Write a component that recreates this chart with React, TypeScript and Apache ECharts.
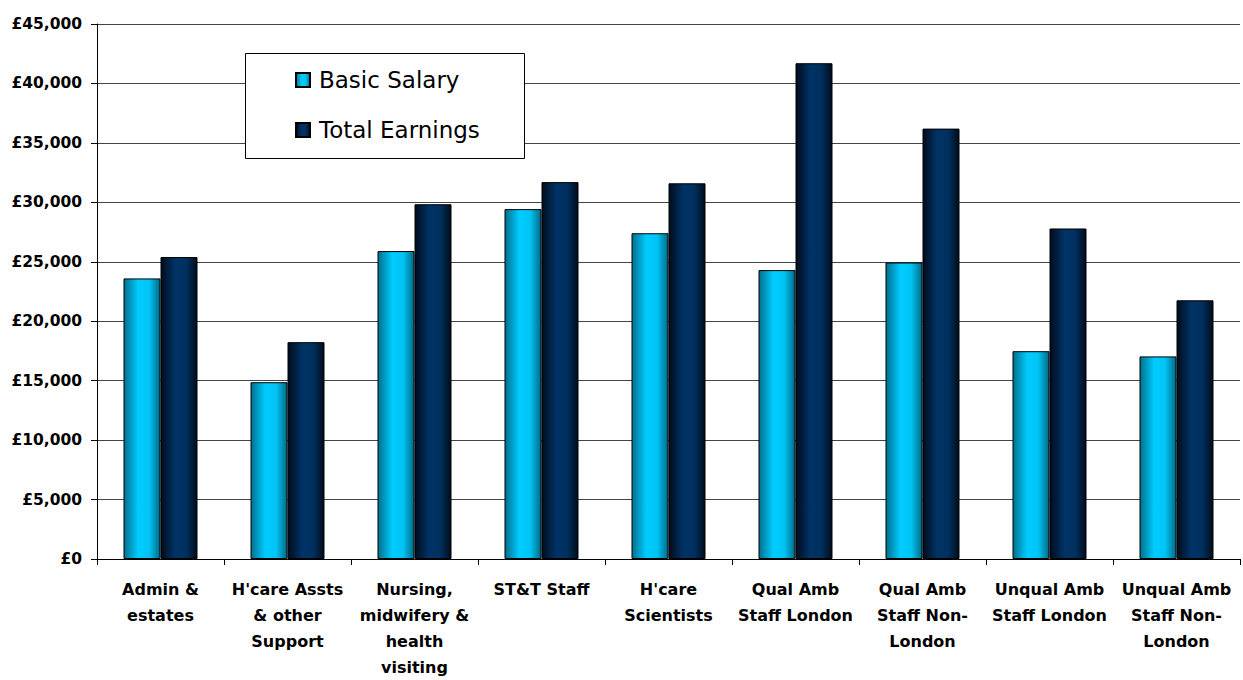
import React, { useEffect, useRef } from "react";
import * as echarts from "echarts";

const categories = [
  "Admin &\nestates",
  "H'care Assts\n& other\nSupport",
  "Nursing,\nmidwifery &\nhealth\nvisiting",
  "ST&T Staff",
  "H'care\nScientists",
  "Qual Amb\nStaff London",
  "Qual Amb\nStaff Non-\nLondon",
  "Unqual Amb\nStaff London",
  "Unqual Amb\nStaff Non-\nLondon",
];
const basicSalary = [23600, 14870, 25900, 29430, 27400, 24300, 24940, 17480, 17040];
const totalEarnings = [25400, 18240, 29840, 31700, 31600, 41700, 36200, 27800, 21760];
const seriesNames = ["Basic Salary", "Total Earnings"];

const FONT = "DejaVu Sans";

function fmt(v: number): string {
  return "£" + String(v).replace(/\B(?=(\d{3})+(?!\d))/g, ",");
}

export default function App() {
  const ref = useRef<HTMLDivElement>(null);
  useEffect(() => {
    if (!ref.current) return;
    const chart = echarts.init(ref.current, undefined, { renderer: "svg" });
    const h = chart.getHeight();
    const cyan = new echarts.graphic.LinearGradient(0, 0, 1, 0, [
      { offset: 0, color: "#006f8c" },
      { offset: 0.4, color: "#00ccff" },
      { offset: 0.7, color: "#00c4f4" },
      { offset: 1, color: "#006a88" },
    ]);
    const navy = new echarts.graphic.LinearGradient(0, 0, 1, 0, [
      { offset: 0, color: "#000c1c" },
      { offset: 0.4, color: "#003366" },
      { offset: 0.7, color: "#00305f" },
      { offset: 1, color: "#000c1c" },
    ]);
    chart.setOption({
      animation: false,
      backgroundColor: "#fff",
      grid: { left: 97, right: 3, top: 24, bottom: h - 565, containLabel: false },
      legend: {
        orient: "vertical",
        left: 295,
        top: 66,
        padding: 0,
        itemWidth: 14,
        itemHeight: 14,
        itemGap: 22,
        icon: "rect",
        textStyle: { fontFamily: FONT, fontSize: 23, color: "#000", lineHeight: 28, padding: [0, 0, 0, 4] },
        data: seriesNames,
      },
      graphic: [
        {
          type: "rect",
          z: 3,
          shape: { x: 245.5, y: 53.5, width: 279, height: 105 },
          style: { fill: "#fff", stroke: "#000", lineWidth: 1 },
        },
      ],
      xAxis: {
        type: "category",
        data: categories,
        axisLine: { lineStyle: { color: "#000", width: 1 } },
        axisTick: { show: true, length: 6, lineStyle: { color: "#000" } },
        axisLabel: {
          interval: 0,
          fontFamily: FONT,
          fontWeight: "bold",
          fontSize: 16,
          lineHeight: 26,
          color: "#000",
          margin: 17,
          align: "center",
        },
      },
      yAxis: {
        type: "value",
        min: 0,
        max: 45000,
        interval: 5000,
        axisLine: { show: true, lineStyle: { color: "#000", width: 1 } },
        axisTick: { show: true, length: 6, lineStyle: { color: "#000" } },
        splitLine: { show: true, lineStyle: { color: "#444", width: 1 } },
        axisLabel: {
          fontFamily: FONT,
          fontWeight: "bold",
          fontSize: 15.5,
          color: "#000",
          margin: 15,
          formatter: (v: number) => fmt(v),
        },
      },
      series: [
        {
          name: seriesNames[0],
          type: "bar",
          data: basicSalary,
          barWidth: 37,
          barGap: "0%",
          itemStyle: { color: cyan, borderColor: "#000", borderWidth: 1 },
        },
        {
          name: seriesNames[1],
          type: "bar",
          data: totalEarnings,
          barWidth: 37,
          barGap: "0%",
          itemStyle: { color: navy, borderColor: "#000", borderWidth: 1 },
        },
      ],
    });
    return () => chart.dispose();
  }, []);
  return (
    <div
      ref={ref}
      style={{ position: "fixed", left: 0, top: 0, width: 1243, height: 680 }}
    />
  );
}
